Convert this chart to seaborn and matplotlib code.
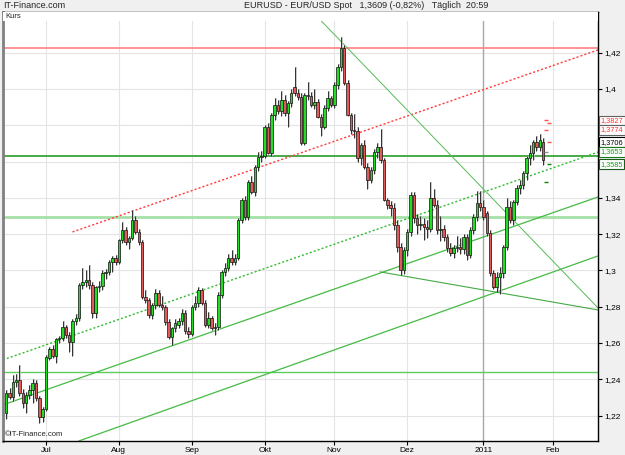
import numpy as np
import pandas as pd
import matplotlib
matplotlib.use("Agg")
import matplotlib.pyplot as plt
import matplotlib.transforms as mtransforms
import seaborn as sns

# ---------------- data (daily EUR/USD candles, index = trading day) ----------------
opens = [1.2215, 1.2325, 1.2303, 1.2386, 1.2395, 1.2325, 1.2270, 1.2314, 1.2342, 1.2380,
         1.2297, 1.2193, 1.2237, 1.2518, 1.2567, 1.2530, 1.2622, 1.2628, 1.2688, 1.2644,
         1.2606, 1.2722, 1.2738, 1.2920, 1.2937, 1.2948, 1.2920, 1.2766, 1.2909, 1.2915,
         1.2986, 1.2992, 1.3047, 1.3069, 1.3047, 1.3168, 1.3223, 1.3157, 1.3179, 1.3278,
         1.3212, 1.3157, 1.2854, 1.2838, 1.2755, 1.2810, 1.2876, 1.2810, 1.2799, 1.2716,
         1.2633, 1.2683, 1.2700, 1.2722, 1.2766, 1.2666, 1.2650, 1.2799, 1.2821, 1.2892,
         1.2821, 1.2700, 1.2738, 1.2683, 1.2689, 1.2865, 1.2992, 1.3014, 1.3069, 1.3047,
         1.3069, 1.3278, 1.3388, 1.3295, 1.3488, 1.3433, 1.3570, 1.3625, 1.3630, 1.3791,
         1.3647, 1.3857, 1.3912, 1.3880, 1.3940, 1.3868, 1.3923, 1.4010, 1.3978, 1.3956,
         1.3702, 1.3967, 1.3960, 1.3912, 1.3928, 1.3846, 1.3791, 1.3895, 1.3950, 1.3912,
         1.4022, 1.4121, 1.4226, 1.4033, 1.3857, 1.3774, 1.3770, 1.3620, 1.3691, 1.3570,
         1.3499, 1.3554, 1.3653, 1.3680, 1.3609, 1.3388, 1.3361, 1.3344, 1.3251, 1.3129,
         1.3003, 1.3113, 1.3212, 1.3416, 1.3289, 1.3251, 1.3255, 1.3240, 1.3229, 1.3400,
         1.3361, 1.3223, 1.3230, 1.3185, 1.3124, 1.3096, 1.3124, 1.3128, 1.3120, 1.3185,
         1.3085, 1.3223, 1.3295, 1.3372, 1.3350, 1.3317, 1.3207, 1.2986, 1.2909, 1.2964,
         1.2986, 1.3129, 1.3350, 1.3278, 1.3377, 1.3454, 1.3471, 1.3537, 1.3620, 1.3647,
         1.3708, 1.3680, 1.3706]
highs = [1.2340, 1.2350, 1.2424, 1.2430, 1.2480, 1.2345, 1.2330, 1.2370, 1.2400, 1.2395,
         1.2310, 1.2250, 1.2535, 1.2580, 1.2590, 1.2630, 1.2640, 1.2720, 1.2700, 1.2660,
         1.2735, 1.2760, 1.2930, 1.3013, 1.3000, 1.3030, 1.2935, 1.2915, 1.2940, 1.3000,
         1.3010, 1.3060, 1.3080, 1.3085, 1.3175, 1.3265, 1.3240, 1.3190, 1.3333, 1.3300,
         1.3230, 1.3170, 1.2890, 1.2850, 1.2820, 1.2900, 1.2890, 1.2860, 1.2810, 1.2730,
         1.2690, 1.2730, 1.2740, 1.2790, 1.2780, 1.2690, 1.2810, 1.2860, 1.2910, 1.2905,
         1.2835, 1.2770, 1.2750, 1.2710, 1.2880, 1.3000, 1.3040, 1.3090, 1.3110, 1.3090,
         1.3290, 1.3400, 1.3410, 1.3500, 1.3520, 1.3580, 1.3650, 1.3660, 1.3800, 1.3810,
         1.3870, 1.3950, 1.3940, 1.3990, 1.3965, 1.3935, 1.4000, 1.4121, 1.4000, 1.3975,
         1.3980, 1.4040, 1.3985, 1.4000, 1.3945, 1.3860, 1.3910, 1.3990, 1.3960, 1.4040,
         1.4140, 1.4287, 1.4240, 1.4050, 1.3870, 1.3860, 1.3790, 1.3700, 1.3720, 1.3590,
         1.3570, 1.3670, 1.3700, 1.3780, 1.3620, 1.3400, 1.3380, 1.3370, 1.3280, 1.3150,
         1.3130, 1.3230, 1.3430, 1.3430, 1.3310, 1.3300, 1.3290, 1.3280, 1.3488, 1.3450,
         1.3390, 1.3300, 1.3250, 1.3200, 1.3150, 1.3140, 1.3190, 1.3180, 1.3200, 1.3200,
         1.3240, 1.3310, 1.3440, 1.3440, 1.3390, 1.3330, 1.3220, 1.3000, 1.2990, 1.3020,
         1.3140, 1.3400, 1.3380, 1.3390, 1.3470, 1.3500, 1.3550, 1.3630, 1.3690, 1.3720,
         1.3740, 1.3750, 1.3730]
lows = [1.2180, 1.2290, 1.2280, 1.2360, 1.2310, 1.2240, 1.2215, 1.2290, 1.2270, 1.2280,
        1.2160, 1.2165, 1.2225, 1.2505, 1.2520, 1.2490, 1.2600, 1.2610, 1.2630, 1.2550,
        1.2530, 1.2700, 1.2720, 1.2900, 1.2910, 1.2900, 1.2740, 1.2740, 1.2880, 1.2890,
        1.2950, 1.2975, 1.2990, 1.3030, 1.3035, 1.3150, 1.3140, 1.3120, 1.3165, 1.3200,
        1.3140, 1.2840, 1.2820, 1.2740, 1.2730, 1.2790, 1.2800, 1.2780, 1.2700, 1.2620,
        1.2590, 1.2660, 1.2680, 1.2700, 1.2650, 1.2628, 1.2640, 1.2780, 1.2800, 1.2810,
        1.2690, 1.2680, 1.2670, 1.2645, 1.2670, 1.2850, 1.2970, 1.2995, 1.3030, 1.3030,
        1.3060, 1.3260, 1.3280, 1.3280, 1.3420, 1.3410, 1.3550, 1.3600, 1.3620, 1.3640,
        1.3630, 1.3830, 1.3860, 1.3850, 1.3850, 1.3790, 1.3900, 1.3960, 1.3940, 1.3690,
        1.3690, 1.3940, 1.3900, 1.3890, 1.3840, 1.3740, 1.3780, 1.3880, 1.3900, 1.3895,
        1.4000, 1.4100, 1.4020, 1.3850, 1.3750, 1.3730, 1.3600, 1.3580, 1.3560, 1.3450,
        1.3480, 1.3530, 1.3620, 1.3590, 1.3380, 1.3340, 1.3300, 1.3220, 1.3100, 1.2975,
        1.2980, 1.3080, 1.3190, 1.3260, 1.3200, 1.3220, 1.3170, 1.3180, 1.3210, 1.3350,
        1.3200, 1.3160, 1.3160, 1.3100, 1.3080, 1.3070, 1.3100, 1.3090, 1.3090, 1.3060,
        1.3070, 1.3200, 1.3270, 1.3330, 1.3280, 1.3190, 1.2970, 1.2900, 1.2880, 1.2870,
        1.2960, 1.3110, 1.3260, 1.3250, 1.3360, 1.3420, 1.3450, 1.3500, 1.3580, 1.3610,
        1.3660, 1.3660, 1.3580]
closes = [1.2325, 1.2303, 1.2386, 1.2395, 1.2325, 1.2270, 1.2314, 1.2342, 1.2380, 1.2297,
          1.2193, 1.2237, 1.2523, 1.2567, 1.2530, 1.2622, 1.2628, 1.2688, 1.2644, 1.2606,
          1.2722, 1.2738, 1.2920, 1.2937, 1.2948, 1.2920, 1.2766, 1.2909, 1.2915, 1.2986,
          1.2992, 1.3047, 1.3069, 1.3047, 1.3168, 1.3223, 1.3157, 1.3179, 1.3278, 1.3212,
          1.3157, 1.2854, 1.2838, 1.2755, 1.2810, 1.2876, 1.2810, 1.2799, 1.2716, 1.2633,
          1.2683, 1.2711, 1.2722, 1.2766, 1.2666, 1.2650, 1.2799, 1.2821, 1.2892, 1.2821,
          1.2700, 1.2738, 1.2683, 1.2689, 1.2865, 1.2992, 1.3014, 1.3069, 1.3047, 1.3069,
          1.3278, 1.3388, 1.3295, 1.3488, 1.3433, 1.3570, 1.3625, 1.3630, 1.3791, 1.3647,
          1.3857, 1.3912, 1.3880, 1.3940, 1.3868, 1.3923, 1.3978, 1.3978, 1.3956, 1.3702,
          1.3967, 1.3960, 1.3912, 1.3928, 1.3846, 1.3791, 1.3895, 1.3950, 1.3912, 1.4022,
          1.4121, 1.4226, 1.4033, 1.3857, 1.3774, 1.3770, 1.3620, 1.3691, 1.3570, 1.3499,
          1.3554, 1.3653, 1.3680, 1.3609, 1.3388, 1.3361, 1.3344, 1.3251, 1.3129, 1.3003,
          1.3113, 1.3212, 1.3416, 1.3289, 1.3251, 1.3255, 1.3240, 1.3229, 1.3400, 1.3361,
          1.3223, 1.3230, 1.3185, 1.3124, 1.3096, 1.3124, 1.3128, 1.3120, 1.3185, 1.3085,
          1.3223, 1.3295, 1.3372, 1.3350, 1.3295, 1.3207, 1.2986, 1.2909, 1.2964, 1.2986,
          1.3129, 1.3350, 1.3278, 1.3377, 1.3454, 1.3471, 1.3537, 1.3620, 1.3647, 1.3708,
          1.3680, 1.3719, 1.3609]

month_labels = ["Jul", "Aug", "Sep", "Okt", "Nov", "Dez", "2011", "Feb"]
month_index = [12, 34, 56, 78, 99, 121, 144, 165]
price_ticks = [1.22, 1.24, 1.26, 1.28, 1.30, 1.32, 1.34, 1.36, 1.38, 1.40, 1.42]

# horizontal support / resistance levels
hlevels = [1.4228, 1.3633, 1.3297, 1.2440]
# trend lines: (start index, start price, end index, end price)
trend_red_dotted = (20.0, 1.3212, 178.6, 1.4215)
trend_green_dotted = (-1.0, 1.2507, 178.6, 1.3652)
trend_green_upper = (-1.0, 1.2259, 178.6, 1.3405)
trend_green_lower = (21.9, 1.2060, 178.6, 1.3080)
trend_down_steep = (94.0, 1.4395, 178.6, 1.2793)
trend_down_flat = (112.8, 1.2992, 178.6, 1.2782)

# price boxes at the right axis
box_values = [1.3827, 1.3774, 1.3706, 1.3653, 1.3585]
box_labels = ["1,3827", "1,3774", "1,3706", "1,3653", "1,3585"]
box_colors = ["#ff3030", "#ff3030", "#000000", "#1a9a1a", "#1a9a1a"]
box_edges = ["#606060", "#606060", "#000000", "#1a7a1a", "#1a5a1a"]

# pivot dashes near the last candle
pivot_levels = [1.3827, 1.3810, 1.3774, 1.3706, 1.3653, 1.3585, 1.3488]
pivot_colors = ["#ff5050", "#ff5050", "#ff5050", "#ff5050", "#909090", "#108010", "#108010"]

# ---------------- styling ----------------
sns.set_theme(style="white")
plt.rcParams['font.family'] = ['Liberation Sans Narrow', 'Liberation Sans', 'DejaVu Sans']

W, H = 625, 455
fig = plt.figure(figsize=(W / 100, H / 100), dpi=100, facecolor="#f0f0f0")
ax = fig.add_axes([3 / W, 14 / H, 595 / W, 429 / H])
ax.set_facecolor("white")
ax.set_xlim(-0.97, 178.57)
ax.set_ylim(1.2060, 1.4424)

df = pd.DataFrame({"open": opens, "high": highs, "low": lows, "close": closes})
df["idx"] = np.arange(len(df))
up = df["close"] >= df["open"]

# grid
for p in price_ticks:
    ax.axhline(p, color="#e4e4e4", lw=0.8, zorder=0)
for m, lab in zip(month_index, month_labels):
    if lab == "2011":
        ax.axvline(m, color="#a8a8a8", lw=1.0, zorder=0)
    else:
        ax.axvline(m, color="#e4e4e4", lw=0.8, zorder=0)

# horizontal levels
ax.axhline(hlevels[0], color="#ff8a8a", lw=1.3, zorder=1)
ax.axhline(hlevels[1], color="#3aa53a", lw=1.3, zorder=1)
ax.axhline(hlevels[2], color="#a6e0a6", lw=2.0, zorder=1)
ax.axhline(hlevels[3], color="#5ccc5c", lw=1.0, zorder=1)

# trend lines
def trend(spec, color, ls, lw):
    x0, y0, x1, y1 = spec
    sns.lineplot(x=[x0, x1], y=[y0, y1], ax=ax, color=color, linestyle=ls, lw=lw,
                 zorder=1, legend=False, estimator=None)

trend(trend_red_dotted, "#ff3b3b", (0, (1.5, 1.5)), 1.0)
trend(trend_green_dotted, "#33bb33", (0, (1.5, 1.5)), 1.0)
trend(trend_green_upper, "#44bb44", "-", 0.9)
trend(trend_green_lower, "#44bb44", "-", 0.9)
trend(trend_down_steep, "#55bb55", "-", 0.7)
trend(trend_down_flat, "#44aa44", "-", 0.8)

# candles
ax.vlines(df["idx"] + 0.3, df["low"], df["high"], color="#c0c0c0", lw=1.2, zorder=2)
ax.vlines(df["idx"], df["low"], df["high"], color="#303030", lw=0.7, zorder=3)
body_h = (df["close"] - df["open"]).abs().clip(lower=0.0004)
body_b = df[["open", "close"]].min(axis=1)
ax.bar(df["idx"], body_h, bottom=body_b, width=0.75,
       color=np.where(up, "#22dd22", "#e05a5a"), edgecolor="#111111", linewidth=0.5, zorder=4)

# pivot dashes
for i, (lv, col) in enumerate(zip(pivot_levels, pivot_colors)):
    x0 = 162.3 + (i % 2) * 0.8
    ax.hlines(lv, x0, x0 + 1.2, color=col, lw=1.0, zorder=5)

# axes spines
for s in ["top", "bottom", "right"]:
    ax.spines[s].set_color("black")
    ax.spines[s].set_linewidth(1.0)
ax.spines["left"].set_color("#808080")
ax.spines["left"].set_linewidth(2.0)

# ticks
ax.yaxis.tick_right()
ax.set_yticks(price_ticks)
def fmt(p):
    s = f"{p:.2f}".rstrip("0").rstrip(".")
    return s.replace(".", ",")
ax.set_yticklabels([fmt(p) if p not in (1.36, 1.38) else "" for p in price_ticks])
ax.set_xticks(month_index)
ax.set_xticklabels(month_labels)
ax.tick_params(axis="y", which="major", right=True, direction="out", length=3, width=0.8,
               labelsize=6, pad=1.5, colors="black")
ax.tick_params(axis="x", which="major", bottom=True, direction="out", length=3, width=0.8,
               labelsize=6, pad=1.5, colors="black")

# price boxes
trans = mtransforms.blended_transform_factory(ax.transAxes, ax.transData)
for v, lab, c, e in zip(box_values, box_labels, box_colors, box_edges):
    ax.text(1.0045, v, lab, transform=trans, fontsize=5.3, color=c, va="center", ha="left",
            clip_on=False, zorder=10,
            bbox=dict(boxstyle="square,pad=0.18", fc="white", ec=e, lw=0.8))

# header inside the panel
ax.add_patch(plt.Rectangle((0, 1 - 9 / 429), 1, 9 / 429, transform=ax.transAxes,
                           facecolor="white", edgecolor="none", zorder=8))
ax.text(0.004, 1 - 4.5 / 429, "Kurs", transform=ax.transAxes, fontsize=5.5,
        va="center", ha="left", zorder=9)
ax.text(0.003, 3 / 429, "©IT-Finance.com", transform=ax.transAxes, fontsize=5.5,
        va="bottom", ha="left", zorder=9, color="#222222")

# title strip
fig.text(3 / W, 1 - 6 / H, "IT-Finance.com", fontsize=6.5, va="center", ha="left")
fig.text(244 / W, 1 - 6 / H, "EURUSD - EUR/USD Spot   1,3609 (-0,82%)   Täglich  20:59",
         fontsize=6.5, va="center", ha="left")

fig.savefig("out.png", dpi=100, facecolor=fig.get_facecolor())
